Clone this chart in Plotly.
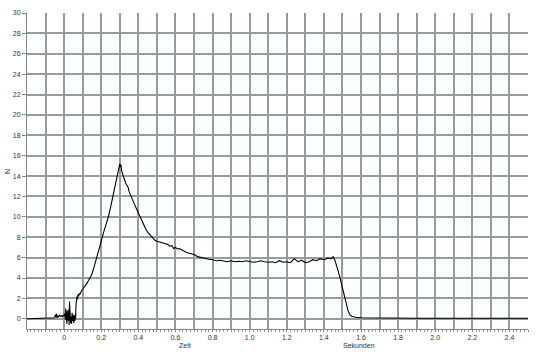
import plotly.graph_objects as go

# Time (seconds) and force (N)
zeit = [-0.2, -0.1, -0.06, -0.05, -0.048, -0.045, -0.042, -0.038, -0.035, -0.03, -0.025, -0.02,
        -0.015, -0.01, -0.005, 0.0, 0.004, 0.007, 0.009, 0.011, 0.013, 0.015, 0.017, 0.019,
        0.021, 0.023, 0.025, 0.027, 0.029, 0.031, 0.033, 0.035, 0.037, 0.040, 0.043, 0.046,
        0.049, 0.052, 0.055, 0.058, 0.060, 0.062, 0.064, 0.066, 0.068, 0.070, 0.072, 0.075,
        0.078, 0.082, 0.086, 0.09, 0.095, 0.10, 0.11, 0.12, 0.13, 0.14, 0.15, 0.16, 0.17,
        0.18, 0.19, 0.20, 0.21, 0.22, 0.23, 0.24, 0.25, 0.26, 0.27, 0.28, 0.29, 0.295, 0.30,
        0.303, 0.306, 0.31, 0.315, 0.32, 0.325, 0.33, 0.335, 0.34, 0.345, 0.35, 0.36, 0.37,
        0.38, 0.39, 0.40, 0.41, 0.42, 0.43, 0.44, 0.45, 0.46, 0.47, 0.48, 0.49, 0.50, 0.52,
        0.54, 0.56, 0.57, 0.58, 0.59, 0.60, 0.61, 0.62, 0.64, 0.66, 0.68, 0.70, 0.72, 0.74,
        0.76, 0.78, 0.80, 0.82, 0.84, 0.86, 0.88, 0.90, 0.92, 0.94, 0.96, 0.98, 1.00, 1.02,
        1.04, 1.06, 1.08, 1.10, 1.12, 1.14, 1.16, 1.18, 1.20, 1.22, 1.24, 1.26, 1.28, 1.30,
        1.32, 1.34, 1.36, 1.38, 1.40, 1.42, 1.44, 1.45, 1.46, 1.47, 1.48, 1.49, 1.50, 1.51,
        1.52, 1.53, 1.54, 1.55, 1.56, 1.57, 1.60, 1.70, 1.80, 1.90, 2.00, 2.10, 2.20, 2.30,
        2.40, 2.50]
kraft = [0.0, 0.02, 0.05, 0.1, 0.4, 0.2, 0.5, 0.1, 0.3, 0.2, 0.35, 0.25,
         0.3, 0.2, 0.35, 0.3, 0.5, -0.1, 1.0, -0.3, 0.6, -0.5, 0.8, 0.0,
         0.4, -0.2, 0.9, -0.6, 1.7, -0.3, 0.5, -0.4, 0.2, -0.5, 0.6, -0.2,
         0.4, -0.4, 0.3, -0.2, 0.5, 0.0, 1.4, 1.8, 1.5, 2.2, 1.9, 2.4,
         2.2, 2.5, 2.4, 2.7, 2.8, 2.9, 3.1, 3.4, 3.7, 4.0, 4.4, 5.0, 5.6,
         6.2, 6.8, 7.6, 8.3, 8.9, 9.3, 10.1, 10.9, 11.8, 12.6, 13.5, 14.4, 14.9, 15.2,
         14.9, 15.1, 14.5, 14.2, 13.8, 13.6, 13.4, 13.2, 13.0, 12.9, 12.5, 12.0, 11.6,
         11.2, 10.8, 10.4, 9.9, 9.5, 9.1, 8.8, 8.5, 8.3, 8.0, 7.8, 7.7, 7.6, 7.5,
         7.4, 7.3, 7.1, 7.2, 6.9, 7.0, 6.85, 6.9, 6.7, 6.5, 6.4, 6.3, 6.1, 6.0,
         5.9, 5.85, 5.8, 5.7, 5.75, 5.7, 5.6, 5.7, 5.6, 5.65, 5.6, 5.7, 5.6, 5.55,
         5.6, 5.7, 5.6, 5.55, 5.6, 5.5, 5.7, 5.55, 5.6, 5.5, 5.9, 5.6, 5.75, 5.5,
         5.6, 5.8, 5.7, 5.9, 5.8, 5.95, 5.9, 6.1, 5.7, 5.2, 4.5, 3.8, 3.0, 2.2,
         1.5, 0.8, 0.4, 0.25, 0.2, 0.15, 0.1, 0.06, 0.05, 0.05, 0.05, 0.06, 0.05, 0.05,
         0.05, 0.05]

x_grid = [round(-0.2 + 0.1 * i, 1) for i in range(28)]
x_labels = {0.0: "0", 0.2: "0.2", 0.4: "0.4", 0.6: "0.6", 0.8: "0.8", 1.0: "1.0", 1.2: "1.2",
            1.4: "1.4", 1.6: "1.6", 1.8: "1.8", 2.0: "2.0", 2.2: "2.2", 2.4: "2.4"}
x_text = [x_labels.get(v, "") for v in x_grid]
y_ticks = list(range(0, 31, 2))

grid_color = "#929e9c"
font = dict(family="Liberation Sans, Arial, sans-serif", size=7, color="#333333")

fig = go.Figure()
fig.add_trace(go.Scatter(x=zeit, y=kraft, mode="lines",
                         line=dict(color="black", width=1.1), showlegend=False))

fig.update_layout(
    width=544, height=354,
    margin=dict(l=27, r=16, t=13, b=25, autoexpand=False),
    paper_bgcolor="white", plot_bgcolor="white",
    font=font,
    xaxis=dict(range=[-0.2, 2.5], tickvals=x_grid, ticktext=x_text, automargin=False,
               showgrid=True, gridcolor=grid_color, gridwidth=1.5,
               ticks="outside", ticklen=2, tickcolor="#888888",
               showline=True, linecolor="#888888", linewidth=1,
               zeroline=False, tickfont=font,
               minor=dict(dtick=0.02, tick0=0, ticks="outside", ticklen=2,
                          tickcolor="#999999", showgrid=False)),
    yaxis=dict(range=[-1, 30], tickvals=y_ticks, automargin=False,
               showgrid=True, gridcolor=grid_color, gridwidth=1.5,
               ticks="outside", ticklen=4, tickcolor="#888888",
               showline=True, linecolor="#888888", linewidth=1,
               zeroline=False, tickfont=font),
    annotations=[
        dict(text="N", xref="paper", yref="paper", x=-0.04, y=0.5, showarrow=False,
             xanchor="center", yanchor="middle", textangle=-90, font=font),
        dict(text="Zeit", xref="x", yref="paper", x=0.652, y=-0.051, showarrow=False,
             yanchor="middle", font=font),
        dict(text="Sekunden", xref="x", yref="paper", x=1.59, y=-0.051, showarrow=False,
             yanchor="middle", font=font),
    ],
)

fig.write_html("out.html")
